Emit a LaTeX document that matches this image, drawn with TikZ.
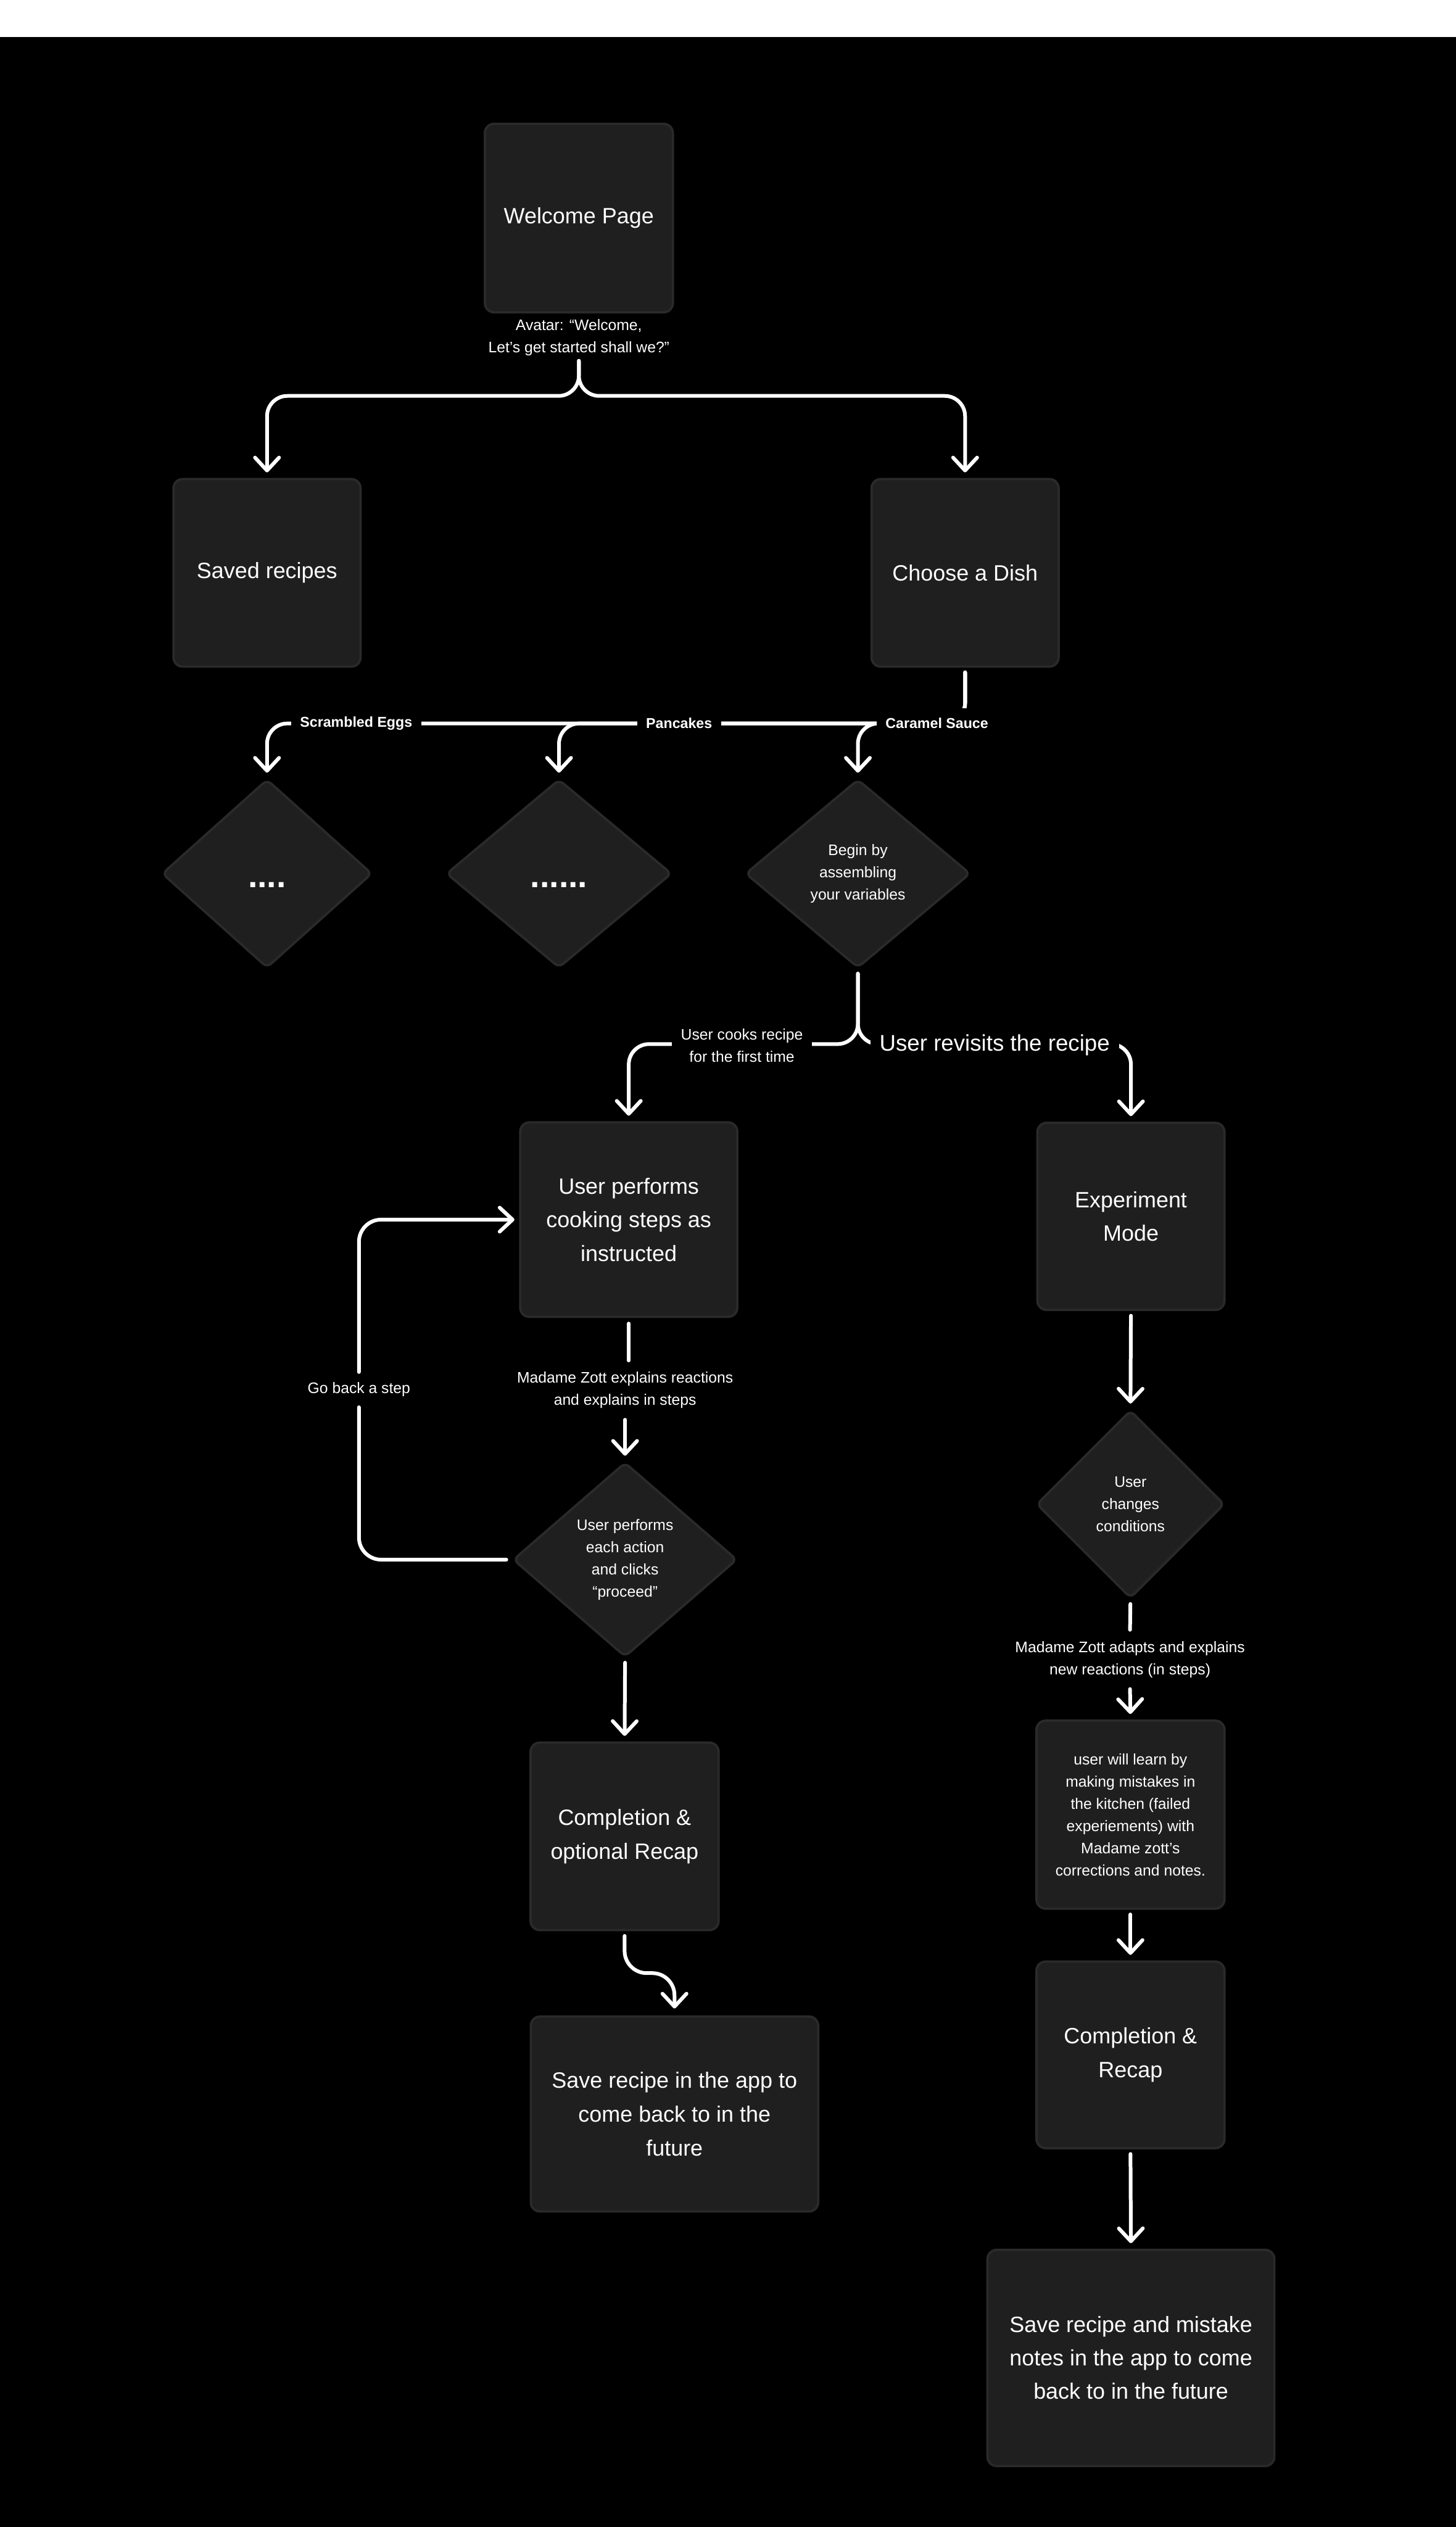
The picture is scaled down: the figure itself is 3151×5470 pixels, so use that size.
\documentclass[tikz,border=0pt]{standalone}
\usepackage{fontspec}
\setmainfont{Liberation Sans}
\usetikzlibrary{arrows.meta,shapes.geometric}
\definecolor{boxfill}{HTML}{1F1F1F}
\definecolor{boxline}{HTML}{2A2A2A}
\begin{document}
\begin{tikzpicture}[x=0.25pt,y=-0.25pt,
  every node/.style={text=white, align=center},
  box/.style={rectangle, rounded corners=5pt, fill=boxfill, draw=boxline, line width=1.25pt, inner sep=0pt, font=\fontsize{12}{18.25}\selectfont},
  dia/.style={diamond, rounded corners=3pt, fill=boxfill, draw=boxline, line width=1.25pt, inner sep=0pt, font=\fontsize{8.25}{12}\selectfont},
  lab/.style={fill=black, inner xsep=5pt, inner ysep=5.5pt, font=\fontsize{8.25}{12}\selectfont},
  blab/.style={fill=black, inner xsep=4.75pt, inner ysep=5.5pt, font=\fontsize{7.75}{10}\selectfont\bfseries},
  conn/.style={draw=white, line width=2pt, line cap=round, rounded corners=11pt, shorten <=2.5pt},
  arr/.style={conn, -{Straight Barb[length=7pt,width=13pt,round]}, shorten >=3pt},
]
\useasboundingbox (0,0) rectangle (3151,5470);
\fill[white] (0,0) rectangle (3151,80);
\fill[black] (0,80) rectangle (3151,5470);

% top
\node[box, minimum width=101.75pt, minimum height=102pt] (welcome) at (1253,472) {Welcome Page};
\node[font=\fontsize{8.25}{12}\selectfont, inner sep=0pt] (avatar) at (1253,731) {Avatar: “Welcome,\\Let’s get started shall we?”};
\coordinate (s1) at (1253,781);
\coordinate (h1) at (1253,857);
\node[box, minimum width=101.25pt, minimum height=101.5pt] (saved) at (578,1240) {Saved recipes};
\node[box, minimum width=101.25pt, minimum height=101.5pt] (choose) at (2089,1240) {Choose a Dish};
\coordinate (h2) at (2089,1566);

% diamonds
\node[dia, minimum width=113.75pt, minimum height=102pt, text height=15pt, text depth=0pt, font=\fontsize{18.5}{20}\selectfont\bfseries] (d1) at (578,1891) {....};
\node[dia, minimum width=122pt, minimum height=102pt, text height=15pt, text depth=0pt, font=\fontsize{18.5}{20}\selectfont\bfseries] (d2) at (1210,1891) {......};
\node[dia, minimum width=121.75pt, minimum height=102pt] (d3) at (1857,1891) {Begin by\\assembling\\your variables};
\coordinate (h3) at (1857,2260);

% left column
\node[box, minimum width=117.5pt, minimum height=105.25pt] (u1) at (1361,2640) {User performs\\cooking steps as\\instructed};
\node[lab, inner ysep=6pt] (mz1) at (1353,3009) {Madame Zott explains reactions\\and explains in steps};
\node[dia, minimum width=121.25pt, minimum height=105.25pt] (d4) at (1353,3376) {User performs\\each action\\and clicks\\“proceed”};
\node[lab] (gb) at (777,3008) {Go back a step};
\node[box, minimum width=101.75pt, minimum height=101.5pt] (c1) at (1352,3975) {Completion \&\\optional Recap};
\node[box, minimum width=155.5pt, minimum height=105.5pt] (save1) at (1460,4576) {Save recipe in the app to\\come back to in the\\future};
\coordinate (m7) at (1352,4271);

% right column
\node[box, minimum width=101.25pt, minimum height=101.25pt] (exp) at (2448,2633) {Experiment\\Mode};
\node[dia, minimum width=101.75pt, minimum height=101.75pt] (d5) at (2447,3256) {User\\changes\\conditions};
\node[lab, inner ysep=6pt] (mz2) at (2446,3592) {Madame Zott adapts and explains\\new reactions (in steps)};
\node[box, minimum width=101.75pt, minimum height=101.75pt, font=\fontsize{8.25}{12}\selectfont] (learn) at (2447,3928) {user will learn by\\making mistakes in\\the kitchen (failed\\experiements) with\\Madame zott’s\\corrections and notes.};
\node[box, minimum width=101.75pt, minimum height=101pt] (c2) at (2447,4448) {Completion \&\\Recap};
\node[box, minimum width=155.25pt, minimum height=117pt, font=\fontsize{12}{18}\selectfont] (save2) at (2448,5104) {Save recipe and mistake\\notes in the app to come\\back to in the future};

% connectors
\draw[arr, shorten <=0pt] (s1) -- (h1) -| (saved.north);
\draw[arr, shorten <=0pt] (s1) -- (h1) -| (choose.north);
\draw[arr] (choose.south) -- (h2) -| (d1.north);
\draw[arr] (choose.south) -- (h2) -| (d2.north);
\draw[arr] (choose.south) -- (h2) -| (d3.north);
\draw[arr] (d3.south) -- (h3) -| (u1.north);
\draw[arr] (d3.south) -- (h3) -| (exp.north);
\draw[conn, shorten <=3pt, shorten >=0pt] (u1.south) -- (u1.south |- mz1.north);
\draw[arr, shorten <=0pt] (mz1.south) -- (d4.north);
\draw[conn, rounded corners=12pt, shorten <=3pt] (d4.west) -| (gb.south);
\draw[arr, rounded corners=12pt, shorten <=0pt, shorten >=2.5pt] (gb.north) |- (u1.west);
\draw[arr] (d4.south) -- (c1.north);
\draw[arr, rounded corners=12pt, shorten >=3.75pt] (c1.south) -- (m7) -| (save1.north);
\draw[arr] (exp.south) -- (d5.north);
\draw[conn] (d5.south) -- (mz2.north);
\draw[arr, shorten <=0pt] (mz2.south) -- (learn.north);
\draw[arr] (learn.south) -- (c2.north);
\draw[arr] (c2.south) -- (save2.north);

% labels over lines
\node[blab] (lsc) at (771,1566) {Scrambled Eggs};
\node[blab] (lpc) at (1470,1566) {Pancakes};
\node[blab] (lcs) at (2028,1566) {Caramel Sauce};
\node[lab] (lcook) at (1606,2263) {User cooks recipe\\for the first time};
\node[lab, font=\fontsize{12.25}{14}\selectfont] (lrev) at (2153,2262) {User revisits the recipe};
\end{tikzpicture}
\end{document}
